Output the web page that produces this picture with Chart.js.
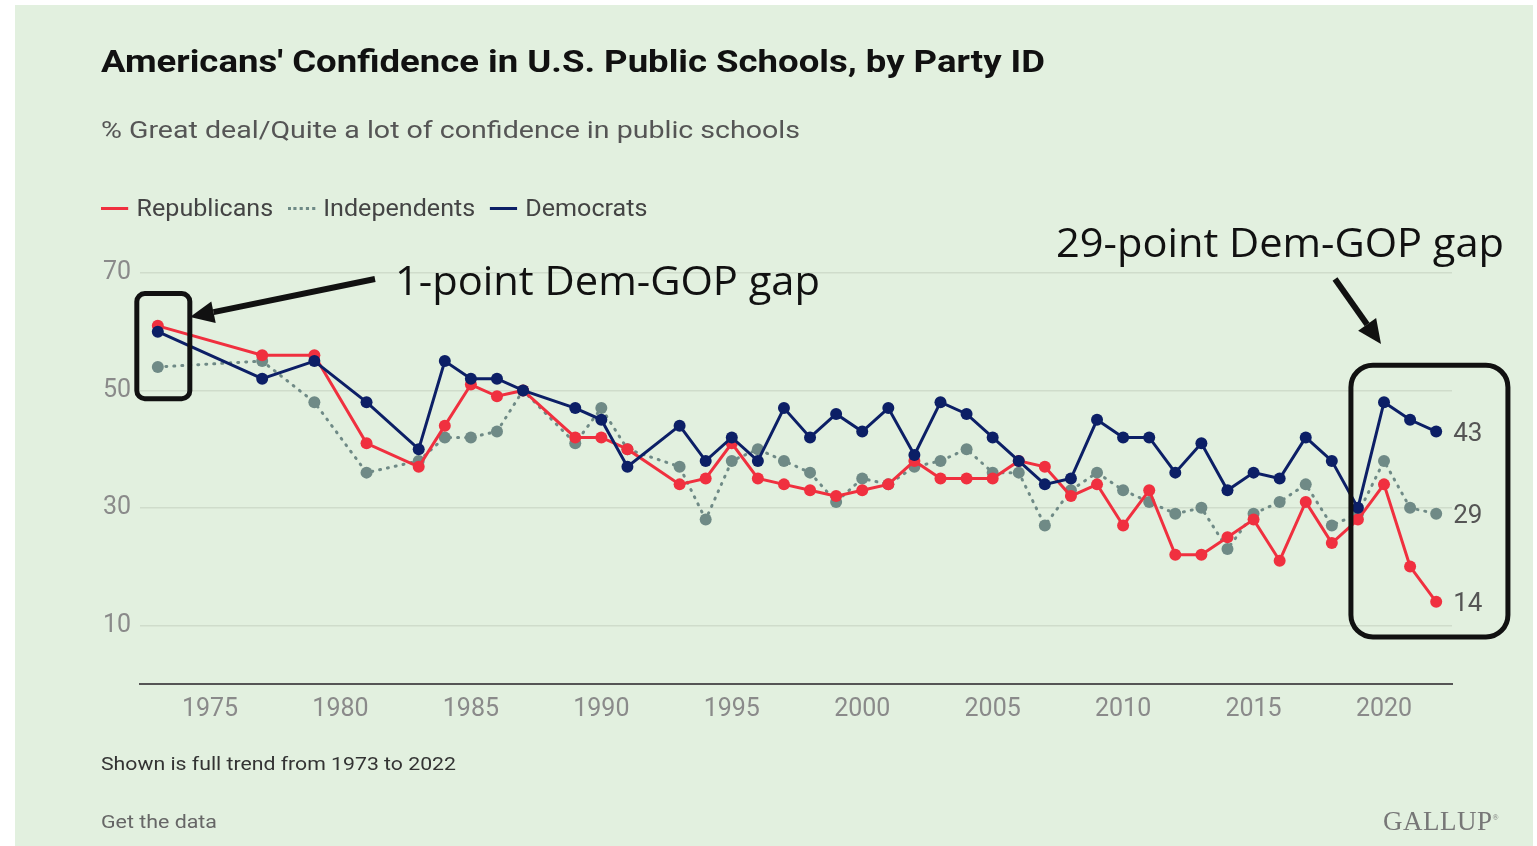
<!DOCTYPE html>
<html>
<head>
<meta charset="utf-8">
<script src="https://cdn.jsdelivr.net/npm/chart.js@4"></script>
<style>
  html, body { margin: 0; padding: 0; background: #fff; }
  body { width: 1537px; height: 846px; position: relative; overflow: hidden; font-family: Roboto, sans-serif; }
  #bg { position: absolute; left: 15px; top: 5px; width: 1518px; height: 841px; background: #e2f0df; }
  #chart { position: absolute; left: 0; top: 0; }
  .txt { position: absolute; white-space: nowrap; line-height: 1; transform-origin: 0 50%; }
  #title { left: 101px; top: 45px; font-size: 32px; font-weight: 700; color: #111; }
  #subtitle { left: 101px; top: 118px; font-size: 24px; color: #555; }
  #legend { left: 101px; top: 196px; font-size: 24px; color: #444; line-height: 24px; }
  #legend span.sw { display: inline-block; width: 26px; height: 0; vertical-align: middle; margin-right: 8px; position: relative; top: -1px; }
  #legend span.item { margin-right: 14px; }
  #note { left: 101px; top: 754px; font-size: 19px; color: #333; }
  #getdata { left: 101px; top: 812px; font-size: 19px; color: #666; }
  #gallup { left: 1383px; top: 808px; font-size: 27px; color: #777; font-family: "Liberation Serif", serif; letter-spacing: 0.5px; }
  .ann { font-family: "Open Sans", sans-serif; color: #111; font-size: 40px; }
  #ann1 { left: 395px; top: 260px; }
  #ann2 { left: 1056px; top: 222px; }
</style>
</head>
<body>
<div id="bg"></div>
<canvas id="chart" width="1537" height="846"></canvas>
<div class="txt" id="title" data-w="944">Americans' Confidence in U.S. Public Schools, by Party ID</div>
<div class="txt" id="subtitle" data-w="699">% Great deal/Quite a lot of confidence in public schools</div>
<div class="txt" id="legend" data-w="561"><span class="item"><span class="sw" style="border-top:3px solid #f0303f"></span>Republicans</span><span class="item"><span class="sw" style="border-top:3px dotted #6f8a86"></span>Independents</span><span class="item"><span class="sw" style="border-top:3px solid #0c1f66"></span>Democrats</span></div>
<div class="txt" id="note" data-w="355">Shown is full trend from 1973 to 2022</div>
<div class="txt" id="getdata" data-w="116">Get the data</div>
<div class="txt" id="gallup">GALLUP<sup style="font-size:8px">®</sup></div>
<div class="txt ann" id="ann1" data-w="425">1-point Dem-GOP gap</div>
<div class="txt ann" id="ann2" data-w="448">29-point Dem-GOP gap</div>
<script>
// survey years
const years = [1973, 1977, 1979, 1981, 1983, 1984, 1985, 1986, 1987, 1989, 1990, 1991, 1993, 1994,
  1995, 1996, 1997, 1998, 1999, 2000, 2001, 2002, 2003, 2004, 2005, 2006, 2007, 2008, 2009, 2010,
  2011, 2012, 2013, 2014, 2015, 2016, 2017, 2018, 2019, 2020, 2021, 2022];

const republicans = [61, 56, 56, 41, 37, 44, 51, 49, 50, 42, 42, 40, 34, 35,
  41, 35, 34, 33, 32, 33, 34, 38, 35, 35, 35, 38, 37, 32, 34, 27,
  33, 22, 22, 25, 28, 21, 31, 24, 28, 34, 20, 14];

const independents = [54, 55, 48, 36, 38, 42, 42, 43, 50, 41, 47, 40, 37, 28,
  38, 40, 38, 36, 31, 35, 34, 37, 38, 40, 36, 36, 27, 33, 36, 33,
  31, 29, 30, 23, 29, 31, 34, 27, 29, 38, 30, 29];

const democrats = [60, 52, 55, 48, 40, 55, 52, 52, 50, 47, 45, 37, 44, 38,
  42, 38, 47, 42, 46, 43, 47, 39, 48, 46, 42, 38, 34, 35, 45, 42,
  42, 36, 41, 33, 36, 35, 42, 38, 30, 48, 45, 43];

const yTicks = [10, 30, 50, 70];
const xTicks = [1975, 1980, 1985, 1990, 1995, 2000, 2005, 2010, 2015, 2020];

const RED = '#f0303f';
const NAVY = '#0c1f66';
const GREY = '#6f8a86';

function pts(vals) {
  return years.map((y, i) => ({ x: y, y: vals[i] }));
}

document.querySelectorAll('.txt[data-w]').forEach(el => {
  const w = el.getBoundingClientRect().width;
  const target = +el.dataset.w;
  el.style.transform = 'scaleX(' + (target / w).toFixed(4) + ')';
});

const overlay = {
  id: 'overlay',
  afterDatasetsDraw(chart) {
    const ctx = chart.ctx;
    const xs = chart.scales.x, ys = chart.scales.y;
    const last = years.length - 1;

    // end-of-line value labels
    ctx.save();
    ctx.font = '26px Roboto';
    ctx.fillStyle = '#555';
    ctx.textBaseline = 'middle';
    const lx = xs.getPixelForValue(years[last]) + 17;
    ctx.fillText(String(democrats[last]), lx, ys.getPixelForValue(democrats[last]) + 3);
    ctx.fillText(String(independents[last]), lx, ys.getPixelForValue(independents[last]) + 3);
    ctx.fillText(String(republicans[last]), lx, ys.getPixelForValue(republicans[last]) + 3);

    // highlight boxes
    ctx.strokeStyle = '#111';
    ctx.lineWidth = 5;
    const x0 = xs.getPixelForValue(1973);
    ctx.beginPath();
    ctx.roundRect(x0 - 21, ys.getPixelForValue(66.5), 53, ys.getPixelForValue(48.6) - ys.getPixelForValue(66.5), 8);
    ctx.stroke();
    const x1 = xs.getPixelForValue(2019);
    ctx.beginPath();
    ctx.roundRect(x1 - 7, ys.getPixelForValue(54.3), 157, ys.getPixelForValue(8) - ys.getPixelForValue(54.3), 22);
    ctx.stroke();

    // arrows
    arrow(ctx, 375, 279, 190, 317);
    arrow(ctx, 1335, 279, 1381, 344);
    ctx.restore();
  }
};

function arrow(ctx, xa, ya, xb, yb) {
  const ang = Math.atan2(yb - ya, xb - xa);
  const head = 24, half = 11;
  const bx = xb - Math.cos(ang) * head, by = yb - Math.sin(ang) * head;
  ctx.fillStyle = '#111';
  ctx.lineWidth = 6;
  ctx.beginPath();
  ctx.moveTo(xa, ya);
  ctx.lineTo(bx, by);
  ctx.stroke();
  ctx.beginPath();
  ctx.moveTo(xb, yb);
  ctx.lineTo(bx + Math.sin(ang) * half, by - Math.cos(ang) * half);
  ctx.lineTo(bx - Math.sin(ang) * half, by + Math.cos(ang) * half);
  ctx.closePath();
  ctx.fill();
}

new Chart(document.getElementById('chart'), {
  type: 'line',
  data: {
    datasets: [
      { label: 'Democrats', data: pts(democrats), borderColor: NAVY, backgroundColor: NAVY,
        borderWidth: 3, pointRadius: 6, pointBorderWidth: 0 },
      { label: 'Republicans', data: pts(republicans), borderColor: RED, backgroundColor: RED,
        borderWidth: 3, pointRadius: 6, pointBorderWidth: 0 },
      { label: 'Independents', data: pts(independents), borderColor: GREY, backgroundColor: GREY,
        borderWidth: 3, borderDash: [1, 7], borderCapStyle: 'round',
        pointRadius: 6, pointBorderWidth: 0 }
    ]
  },
  options: {
    responsive: false,
    animation: false,
    layout: { padding: { left: 0, right: 85, top: 273, bottom: 0 } },
    plugins: { legend: { display: false }, tooltip: { enabled: false } },
    scales: {
      x: {
        type: 'linear',
        min: 1972.317,
        max: 2022.606,
        afterBuildTicks: s => { s.ticks = xTicks.map(v => ({ value: v })); },
        afterFit: s => { s.height = 846 - 684; },
        grid: { display: false, drawTicks: false },
        border: { display: true, color: '#555', width: 2 },
        ticks: { color: '#8a8a8a', font: { family: 'Roboto', size: 25 }, padding: 11, maxRotation: 0,
          callback: v => String(v) }
      },
      y: {
        min: 0,
        max: 70,
        afterBuildTicks: s => { s.ticks = yTicks.map(v => ({ value: v })); },
        afterFit: s => { s.width = 140; },
        grid: { color: '#cfdccb', lineWidth: 1.5, drawTicks: false },
        border: { display: false },
        ticks: { color: '#8a8a8a', font: { family: 'Roboto', size: 25 }, padding: 9 }
      }
    }
  },
  plugins: [overlay]
});
</script>
</body>
</html>
